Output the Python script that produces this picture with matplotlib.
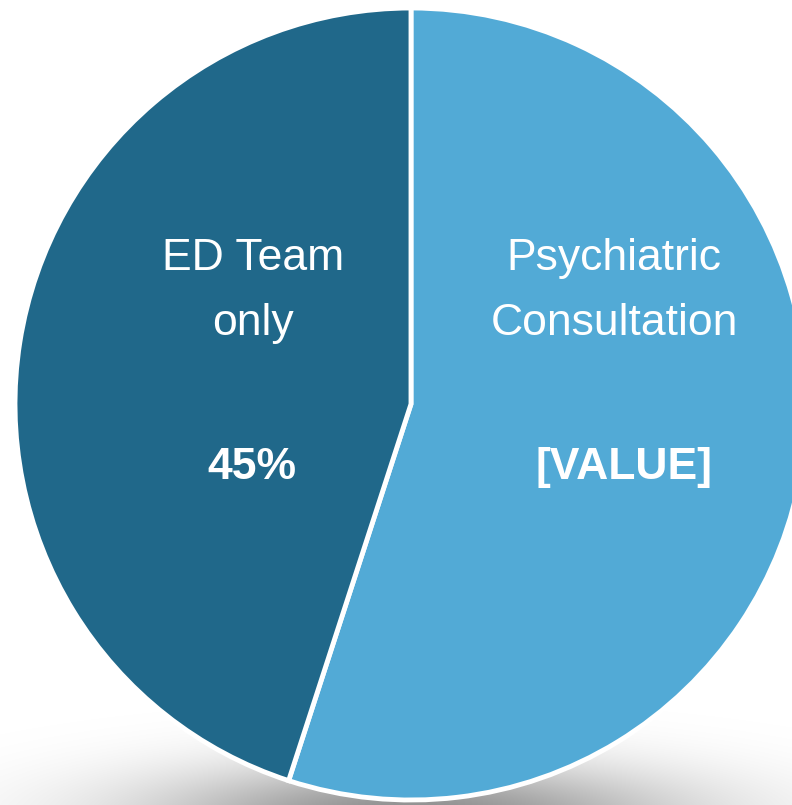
import matplotlib
matplotlib.use("Agg")
import matplotlib.pyplot as plt
import numpy as np

labels = ["Psychiatric\nConsultation", "ED Team\nonly"]
values = [55, 45]
value_labels = ["[VALUE]", "45%"]
colors = ["#52AAD6", "#20688A"]

plt.rcParams['font.family'] = ['Liberation Sans', 'DejaVu Sans']

fig = plt.figure(figsize=(7.92, 8.05), dpi=100)
ax = fig.add_axes([0, 0, 1, 1])

cx, cy, r = 411, 401, 396

# soft elliptical shadow beneath the pie
W, H = 792, 805
xx, yy = np.meshgrid(np.arange(W) + 0.5, np.arange(H) + 0.5)
sx, sy = 190.0, 38.0
scx, scy = 415.0, -12.0
alpha = 0.45 * np.exp(-0.5 * (((xx - scx) / sx) ** 2 + ((yy - scy) / sy) ** 2))
rgba = np.zeros((H, W, 4))
rgba[..., 3] = alpha
ax.imshow(rgba, extent=(0, W, 0, H), origin='lower', zorder=0, interpolation='bilinear')

ax.pie(values, startangle=90, counterclock=False, center=(cx, cy), radius=r,
       colors=colors, wedgeprops=dict(edgecolor='white', linewidth=3.5, zorder=2),
       frame=True)
ax.set_xlim(0, W)
ax.set_ylim(0, H)
ax.set_aspect('equal')
ax.axis('off')

ax.text(614, H - 291, labels[0], ha='center', va='center', color='white',
        fontsize=32, linespacing=1.72, zorder=5)
ax.text(253, H - 291, labels[1], ha='center', va='center', color='white',
        fontsize=32, linespacing=1.72, zorder=5)
ax.text(624, H - 467, value_labels[0], ha='center', va='center', color='white',
        fontsize=32, fontweight='bold', zorder=5)
ax.text(252, H - 467, value_labels[1], ha='center', va='center', color='white',
        fontsize=32, fontweight='bold', zorder=5)

fig.savefig("out.png", dpi=100)
